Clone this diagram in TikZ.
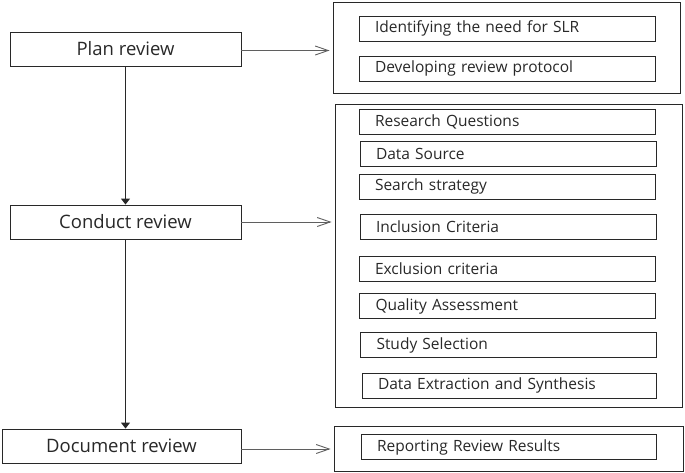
\documentclass[tikz,border=0pt]{standalone}
\usepackage{fontspec}
\setmainfont{Open Sans}
\usepackage{tikz}
\usetikzlibrary{arrows.meta, positioning, calc}
\definecolor{lineblack}{RGB}{40, 40, 40}
\definecolor{arrowgray}{RGB}{95, 95, 95}

\begin{document}
\begin{tikzpicture}[x=1pt, y=-1pt,
  stage/.style={draw=lineblack, line width=0.9pt, minimum width=231pt, minimum height=34pt, inner sep=0pt, text=lineblack, font=\fontsize{18.5}{20}\selectfont},
  group/.style={draw=lineblack, line width=0.9pt, inner sep=0pt},
  task/.style={draw=lineblack, line width=0.8pt, text width=264pt, align=left, inner xsep=16pt, inner ysep=0pt, minimum height=25pt, text=lineblack, font=\fontsize{15.5}{17}\selectfont},
  flow/.style={draw=lineblack, line width=0.9pt, -{Triangle[length=6pt, width=9pt]}},
  link/.style={draw=arrowgray, line width=0.9pt, shorten >=3pt, -{Straight Barb[length=13pt, width=9pt]}}]
  \useasboundingbox (0,0) rectangle (685,472);

  % Stages on the left
  \node[stage] (plan) at (125.5, 49) {Plan review};
  \node[stage] (conduct) at (125.5, 222) {Conduct review};
  \node[stage, minimum width=239pt] (document) at (121.5, 446) {Document review};

  % Planning group
  \node[group, minimum width=347pt, minimum height=91pt] (planbox) at (506.5, 47.5) {};
  \node[task] (identify) at (507, 28.5) {Identifying the need for SLR};
  \node[task] (protocol) at (507, 68.5) {Developing review protocol};

  % Conducting group
  \node[group, minimum width=347pt, minimum height=303pt] (conductbox) at (508.5, 255.5) {};
  \node[task] (questions) at (507, 121.5) {Research Questions};
  \node[task] (source) at (508, 154) {Data Source};
  \node[task] (search) at (507, 186.5) {Search strategy};
  \node[task] (inclusion) at (508, 227) {Inclusion Criteria};
  \node[task] (exclusion) at (507, 268.5) {Exclusion criteria};
  \node[task] (quality) at (507.5, 306) {Quality Assessment};
  \node[task] (selection) at (508.5, 345) {Study Selection};
  \node[task, text width=262pt] (extraction) at (509, 385.5) {Data Extraction and Synthesis};

  % Documenting group
  \node[group, minimum width=349pt, minimum height=45pt] (docbox) at (508.5, 448.5) {};
  \node[task, text width=263pt] (reporting) at (508.5, 447) {Reporting Review Results};

  % Connectors
  \draw[flow] (plan) -- (conduct);
  \draw[flow] (conduct.south) -- (conduct.south |- document.north);
  \draw[link] ($(plan.east)+(0,1.5)$) -- ($(plan.east -| planbox.west)+(0,1.5)$);
  \draw[link] (conduct.east) -- (conduct.east -| conductbox.west);
  \draw[link] ($(document.east)+(0,3)$) -- ($(document.east -| docbox.west)+(0,3)$);
\end{tikzpicture}
\end{document}
